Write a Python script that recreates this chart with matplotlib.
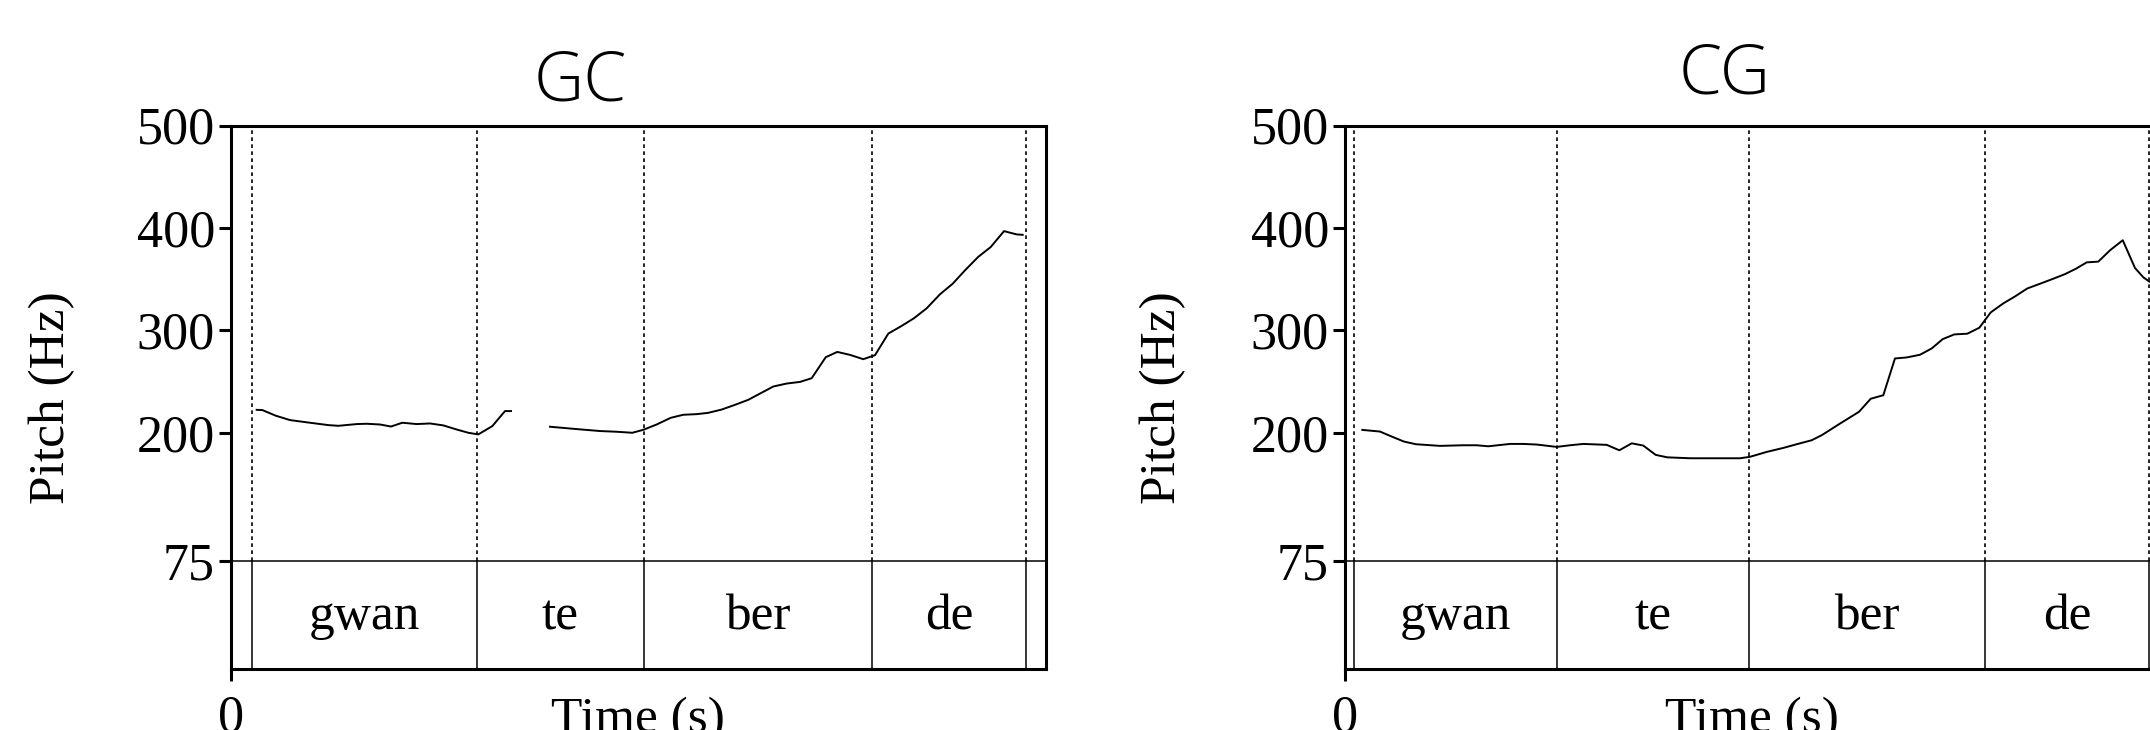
import numpy as np
import matplotlib
matplotlib.use("Agg")
import matplotlib.pyplot as plt

# ---- data ------------------------------------------------------------
# GC panel: pitch track (two voiced stretches), time in s, pitch in Hz
gc_t1 = [0.0315, 0.0384, 0.0552, 0.0724, 0.0969, 0.1194, 0.1317, 0.1542, 0.1665,
         0.1828, 0.1963, 0.2102, 0.2279, 0.2442, 0.2605, 0.2769, 0.2912, 0.3034,
         0.3206, 0.3362, 0.3436]
gc_f1 = [222.2, 222.0, 216.4, 212.2, 209.6, 207.3, 206.6, 208.3, 208.6,
         207.9, 205.9, 209.6, 208.3, 208.9, 207.0, 203.0, 199.8, 198.2,
         206.3, 221.0, 221.0]
gc_t2 = [0.3914, 0.4242, 0.4528, 0.4733, 0.4924, 0.5059, 0.5223, 0.5395, 0.5550,
         0.5714, 0.5856, 0.6021, 0.6184, 0.6347, 0.6491, 0.6654, 0.6818, 0.6982,
         0.7125, 0.7297, 0.7439, 0.7595, 0.7758, 0.7902, 0.8065, 0.8229, 0.8380,
         0.8536, 0.8699, 0.8855, 0.9006, 0.9169, 0.9321, 0.9485, 0.9640, 0.9714]
gc_f2 = [205.7, 203.4, 201.5, 200.8, 199.8, 202.7, 207.9, 214.4, 217.4,
         218.0, 219.3, 222.5, 227.1, 232.0, 238.1, 245.0, 247.9, 249.5,
         253.1, 273.6, 278.8, 275.9, 271.7, 275.6, 296.7, 304.2, 311.7,
         321.4, 335.1, 345.4, 358.5, 371.7, 381.2, 396.8, 393.6, 393.2]
gc_bounds = [0.0254, 0.3015, 0.5064, 0.7865, 0.9755]

# CG panel
cg_t = [0.0212, 0.0429, 0.0573, 0.0724, 0.0871, 0.1166, 0.1452, 0.1616, 0.1758,
        0.2025, 0.2188, 0.2352, 0.2598, 0.2761, 0.2924, 0.3211, 0.3366, 0.3518,
        0.3660, 0.3812, 0.3955, 0.4233, 0.4519, 0.4847, 0.4969, 0.5174, 0.5378,
        0.5542, 0.5726, 0.5849, 0.6074, 0.6307, 0.6450, 0.6605, 0.6748, 0.6892,
        0.7055, 0.7199, 0.7334, 0.7476, 0.7636, 0.7783, 0.7923, 0.8077, 0.8221,
        0.8372, 0.8528, 0.8691, 0.8834, 0.8969, 0.9101, 0.9243, 0.9387, 0.9543,
        0.9693, 0.9795, 0.9869]
cg_f = [202.6, 201.0, 196.1, 191.2, 188.6, 187.0, 187.6, 187.6, 186.6,
        188.9, 188.9, 188.3, 186.0, 187.6, 188.9, 188.0, 182.7, 189.5,
        187.3, 178.2, 175.8, 174.9, 174.9, 174.9, 176.3, 181.1, 185.0,
        188.6, 192.5, 197.4, 208.8, 220.3, 233.0, 236.5, 272.4, 273.4,
        276.0, 282.2, 291.3, 295.9, 296.6, 302.4, 317.4, 326.2, 333.0,
        340.8, 345.4, 350.3, 354.8, 360.1, 366.3, 367.0, 378.1, 387.9,
        360.8, 351.7, 347.5]
cg_bounds = [0.0107, 0.2605, 0.4953, 0.7850, 0.9865]

syllables = ["gwan", "te", "ber", "de"]
yticks = [75, 200, 300, 400, 500]

# ---- style -----------------------------------------------------------
serif = "Liberation Serif"
f_lo, f_hi = 75, 500
y_bottom = -30.5          # bottom of the text-grid tier
dotted = (0, (2.2, 2.0))


def panel(ax, segments, bounds, labels):
    for t, f in segments:
        ax.plot(t, f, color="black", lw=1.4)

    # tier separator and interval boundaries
    ax.axhline(f_lo, color="black", lw=1.1)
    ax.vlines(bounds, f_lo, f_hi, colors="black", lw=1.2, linestyles=dotted)
    ax.vlines(bounds, y_bottom, f_lo, colors="black", lw=1.1)
    for a, b, lab in zip(bounds[:-1], bounds[1:], labels):
        ax.text((a + b) / 2, 8, lab, ha="center", va="baseline",
                family=serif, fontsize=37)

    ax.set_xlim(0, 1)
    ax.set_ylim(y_bottom, f_hi)
    ax.set_yticks(yticks)
    ax.set_xticks([0])
    ax.set_xticklabels(["0"])
    for s in ax.spines.values():
        s.set_linewidth(2.2)
    ax.tick_params(axis="both", direction="out", length=8.6, width=2.2,
                   labelsize=37.5, pad=3)
    ax.tick_params(axis="x", pad=10)
    for lab in ax.get_xticklabels() + ax.get_yticklabels():
        lab.set_family(serif)


fig = plt.figure(figsize=(21.5, 7.3), dpi=100)
W, H = 2150, 730

ax1 = fig.add_axes([231 / W, (H - 668.5) / H, 815 / W, 543 / H])
ax2 = fig.add_axes([1345 / W, (H - 668.5) / H, 815 / W, 543 / H])

panel(ax1, [(gc_t1, gc_f1), (gc_t2, gc_f2)], gc_bounds, syllables)
panel(ax2, [(cg_t, cg_f)], cg_bounds, syllables)

# titles, axis labels
title_font = dict(family=["Open Sans", "DejaVu Sans"], fontweight="light", fontsize=50)
fig.text(580 / W, (H - 100.5) / H, "GC", ha="center", va="baseline", **title_font)
fig.text(1725 / W, (H - 94) / H, "CG", ha="center", va="baseline", **title_font)
for x in (52, 1163):
    fig.text(x / W, (H - 398) / H, "Pitch (Hz)", rotation=90, ha="center",
             va="center", family=serif, fontsize=37)
for x in (638, 1752):
    fig.text(x / W, (H - 697) / H, "Time (s)", ha="center", va="top",
             family=serif, fontsize=37)

fig.savefig("out.png", dpi=100)
